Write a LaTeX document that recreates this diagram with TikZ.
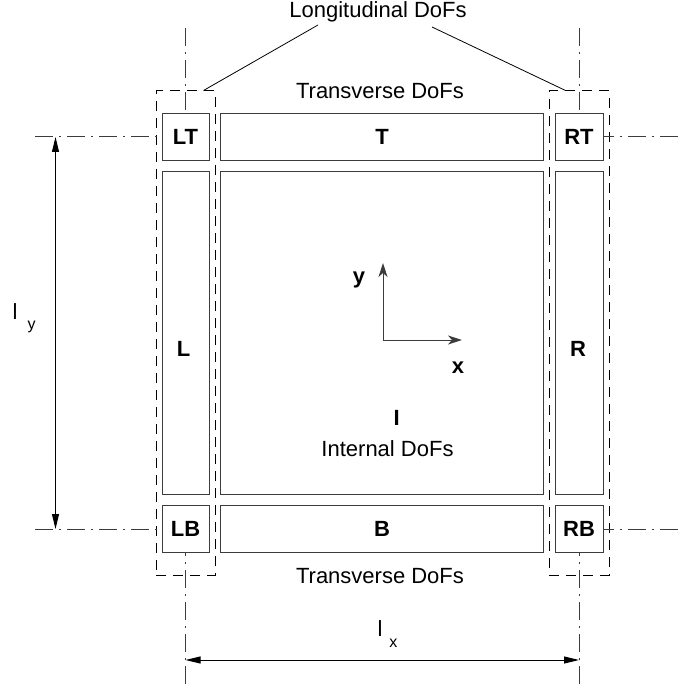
\documentclass[tikz,border=0pt]{standalone}
\usepackage{fontspec}
\setmainfont{Liberation Sans}
\usetikzlibrary{arrows.meta,positioning,fit,calc}
\definecolor{lineC}{RGB}{60,60,60}
\tikzset{
    part/.style     = {draw=lineC, line width=1pt, inner sep=0pt,
            font=\bfseries\fontsize{22}{26}\selectfont},
    group/.style    = {draw=black, line width=1pt, dash pattern=on 10pt off 7pt,
            inner xsep=5.5pt, inner ysep=22pt},
    centerline/.style = {draw=lineC, line width=1pt,
            dash pattern=on 18pt off 6pt on 2pt off 6pt},
    dim/.style      = {{Triangle[length=15pt,width=7pt]}-{Triangle[length=15pt,width=7pt]},
            line width=1pt},
    axis/.style     = {-{Stealth[length=14pt,width=9pt,inset=4pt]}, line width=1pt, draw=lineC},
    note/.style     = {font=\fontsize{22}{26}\selectfont, inner sep=0pt, anchor=base},
    sub/.style      = {font=\fontsize{16}{19}\selectfont, inner sep=0pt, anchor=base},
    lab/.style      = {font=\bfseries\fontsize{22}{26}\selectfont, inner sep=0pt, anchor=base},
}
\newcommand{\CornerW}{47pt}
\newcommand{\MidW}{323pt}
\newcommand{\MidH}{322pt}
\newcommand{\Gap}{10.5pt}

\begin{document}
\begin{tikzpicture}[x=1pt,y=-1pt]
    \useasboundingbox (0,0) rectangle (678,684);

    % parts of the plate
    \node[part, minimum width=\CornerW, minimum height=\CornerW] (LT) at (185.5,137) {LT};
    \node[part, minimum width=\MidW, minimum height=\CornerW, right=\Gap of LT] (T) {T};
    \node[part, minimum width=48pt, minimum height=\CornerW, right=\Gap of T] (RT) {RT};
    \node[part, minimum width=\CornerW, minimum height=\MidH, below=\Gap of LT] (L) {};
    \node[part, minimum width=\MidW, minimum height=\MidH, below=\Gap of T] (I) {};
    \node[part, minimum width=48pt, minimum height=\MidH, below=\Gap of RT] (R) {};
    \node[part, minimum width=\CornerW, minimum height=\CornerW, below=\Gap of L] (LB) {LB};
    \node[part, minimum width=\MidW, minimum height=\CornerW, below=\Gap of I] (B) {B};
    \node[part, minimum width=48pt, minimum height=\CornerW, below=\Gap of R] (RB) {RB};

    % labels inside the long parts
    \node[lab] (Ltxt) at (183.5,356) {L};
    \node[lab] (Rtxt) at (578,356) {R};
    \node[lab] (Itxt) at (396.7,425) {I};
    \node[note] (Inote) at (387.5,456.7) {Internal DoFs};

    % longitudinal groups
    \node[group, fit=(LT)(LB)] (Lgrp) {};
    \node[group, fit=(RT)(RB)] (Rgrp) {};

    % texts outside
    \node[note] (Long) at (378,17.3) {Longitudinal DoFs};
    \node[note] (Ttop) at (380,98.3) {Transverse DoFs};
    \node[note] (Tbot) at (380,583.5) {Transverse DoFs};
    \coordinate (LongL) at (318,25);
    \coordinate (LongR) at (432,27);
    \draw[line width=0.8pt] (LongL) -- ($(Lgrp.north east)+(-12,0)$);
    \draw[line width=0.8pt] (LongR) -- ($(Rgrp.north west)+(17,0)$);

    % center lines
    \draw[centerline] (LT.north |- 0,28) -- (LT.north);
    \draw[centerline] (RT.north |- 0,28) -- (RT.north);
    \draw[centerline] (LB.south |- 0,684) -- (LB.south);
    \draw[centerline] (RB.south |- 0,684) -- (RB.south);
    \draw[centerline] (LT.west -| 35,0) -- (LT.west);
    \draw[centerline] (LB.west -| 35,0) -- (LB.west);
    \draw[centerline] (RT.east -| 678,0) -- (RT.east);
    \draw[centerline] (RB.east -| 678,0) -- (RB.east);

    % dimensions
    \draw[dim] (LT.west -| 55.5,0) -- (LB.west -| 55.5,0);
    \draw[dim] (LB.south |- 0,660) -- (RB.south |- 0,660);
    \node[note] (ly) at (15,319) {l};
    \node[sub] (lysub) at (31.7,329.6) {y};
    \node[note] (lx) at (380,636) {l};
    \node[sub] (lxsub) at (393.3,647) {x};

    % axes
    \coordinate (O) at (383,340);
    \draw[axis] (O) -- (383,263);
    \draw[axis] (O) -- (462,340);
    \node[lab] (ytxt) at (359,283.5) {y};
    \node[lab] (xtxt) at (458,373) {x};
\end{tikzpicture}
\end{document}
